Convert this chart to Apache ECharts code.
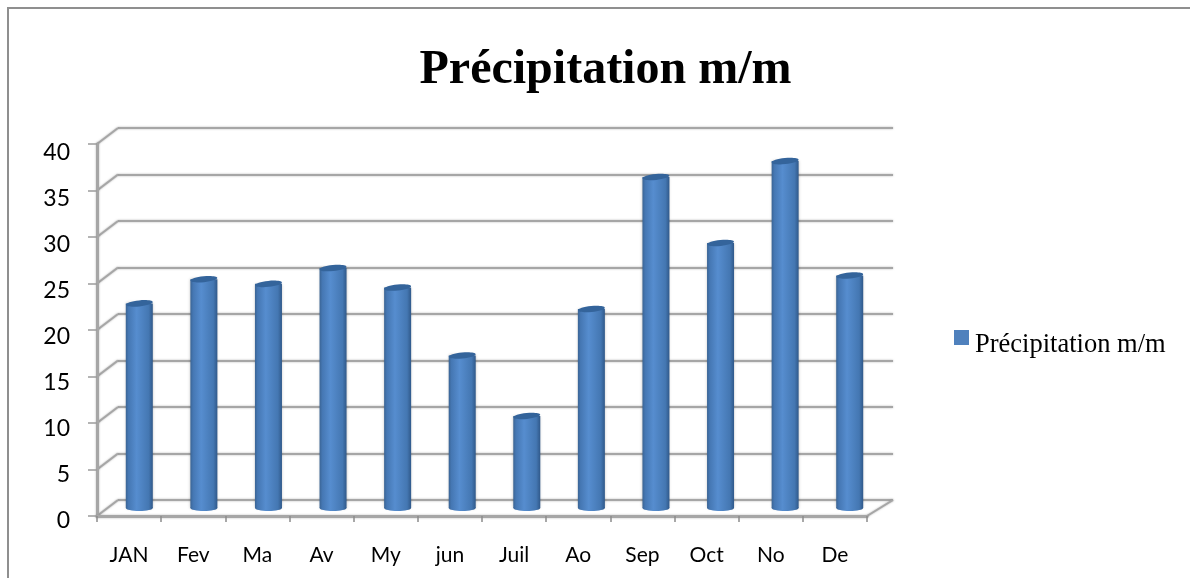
<!DOCTYPE html>
<html><head><meta charset="utf-8">
<style>html,body{margin:0;padding:0;background:#fff}#c{width:1190px;height:578px}</style>
<script src="https://cdn.jsdelivr.net/npm/echarts@6/dist/echarts.min.js"></script>
</head><body><div id="c"></div>
<script>
const categories = ['JAN','Fev','Ma','Av','My','jun','Juil','Ao','Sep','Oct','No','De'];
const values = [22,24.6,24.1,25.8,23.7,16.4,9.9,21.4,35.6,28.5,37.3,25];
const yTicks = [0,5,10,15,20,25,30,35,40];
const seriesName = 'Précipitation m/m';
const titleText = 'Précipitation m/m';

const W = 1190, H = 578;
const front = {left:97, right:W-867, top:144, height:372};
const mid   = {left:107, right:W-882, top:136, height:372};
const back  = {left:118, right:W-893, top:128, height:372};
const labelGrid = {left:97, right:W-867, top:153, height:368};
const depthX = back.left-front.left, depthY = back.top-front.top;
const grey = '#a6a6a6';
const soft = {shadowBlur:2,shadowColor:'rgba(120,120,120,.6)'};

const barGrad = new echarts.graphic.LinearGradient(0,0,1,0,[
  {offset:0,color:'#3a6494'},{offset:.1,color:'#4577b3'},{offset:.4,color:'#568dcf'},
  {offset:.85,color:'#4477b2'},{offset:1,color:'#30598a'}]);

const hiddenX = i => ({gridIndex:i,type:'category',data:categories,show:false});
const hiddenY = i => ({gridIndex:i,type:'value',min:0,max:40,interval:5,show:false});

const option = {
  animation:false,
  backgroundColor:'#fff',
  title:{text:titleText,left:600.5,top:42,textAlign:'center',
    textStyle:{fontFamily:'Liberation Serif',fontWeight:'bold',fontSize:48,color:'#000'}},
  legend:{left:949,top:325,itemWidth:15,itemHeight:15,itemGap:0,
    formatter:n=>'{a|'+n+'}',
    textStyle:{rich:{a:{fontFamily:'Liberation Serif',fontSize:26.5,color:'#000',padding:[16,0,0,1]}}},
    data:[{name:seriesName,icon:'rect',itemStyle:{color:'#4f81bd',shadowBlur:0}}]},
  graphic:[{type:'polyline',silent:true,z:0,
    shape:{points:[[8,H],[8,8],[W,8]]},style:{stroke:'#8f8f8f',lineWidth:2,fill:null}}],
  grid:[
    {...front,show:false},{...mid,show:false},{...back,show:false},{...labelGrid,show:false}
  ],
  xAxis:[
    {gridIndex:0,type:'category',data:categories,boundaryGap:true,z:3,
      axisLine:{lineStyle:{color:grey,width:3,...soft}},
      axisTick:{show:true,length:6,lineStyle:{color:'#8c8c8c',width:1.5}},
      axisLabel:{margin:29,interval:0,fontFamily:'Lato',fontSize:21,color:'#000'}},
    hiddenX(1),hiddenX(2),hiddenX(3)
  ],
  yAxis:[
    {gridIndex:0,type:'value',min:0,max:40,interval:5,z:3,
      axisLine:{show:true,lineStyle:{color:grey,width:3,...soft}},
      axisTick:{show:true,length:9,lineStyle:{color:'#9c9c9c',width:1.5}},
      axisLabel:{show:false},splitLine:{show:false}},
    hiddenY(1),
    {gridIndex:2,type:'value',min:0,max:40,interval:5,z:1,
      axisLine:{show:false},axisTick:{show:false},axisLabel:{show:false},
      splitLine:{show:true,lineStyle:{color:grey,width:2,...soft}}},
    {gridIndex:3,type:'value',min:0,max:40,interval:5,
      axisLine:{show:false},axisTick:{show:false},splitLine:{show:false},
      axisLabel:{margin:27,fontFamily:'Lato',fontSize:23,color:'#000'}}
  ],
  series:[
    {type:'custom',xAxisIndex:0,yAxisIndex:0,silent:true,z:1,clip:false,
      data:yTicks.map(t=>[0,t]),encode:{x:0,y:1},
      renderItem(params,api){
        const y=api.coord([0,api.value(1)])[1], x=params.coordSys.x;
        const style={stroke:grey,lineWidth:2,...soft};
        const lines=[{type:'line',shape:{x1:x,y1:y,x2:x+depthX,y2:y+depthY},style}];
        if(api.value(1)===0){
          const xr=x+params.coordSys.width;
          lines.push({type:'line',shape:{x1:xr,y1:y,x2:xr+(front.right-back.right),y2:y+depthY},style});
        }
        return {type:'group',children:lines};
      }},
    {name:seriesName,type:'bar',xAxisIndex:1,yAxisIndex:1,barWidth:27,z:5,
      data:values,
      itemStyle:{color:barGrad,shadowBlur:3,shadowColor:'rgba(0,0,0,.3)'}},
    {type:'custom',xAxisIndex:1,yAxisIndex:1,silent:true,z:6,clip:false,
      data:values.map((v,i)=>[i,v]),encode:{x:0,y:1},
      renderItem(params,api){
        const top=api.coord([api.value(0),api.value(1)]);
        const base=api.coord([api.value(0),0]);
        return {type:'group',children:[
          {type:'ellipse',shape:{cx:base[0],cy:base[1],rx:13.5,ry:3},style:{fill:barGrad}},
          {type:'ellipse',x:top[0],y:top[1],rotation:0.1,shape:{cx:0,cy:0,rx:13.5,ry:3},
            style:{fill:'#34649b'}}
        ]};
      }}
  ]
};
echarts.init(document.getElementById('c'),null,{renderer:'canvas'}).setOption(option);
</script></body></html>
